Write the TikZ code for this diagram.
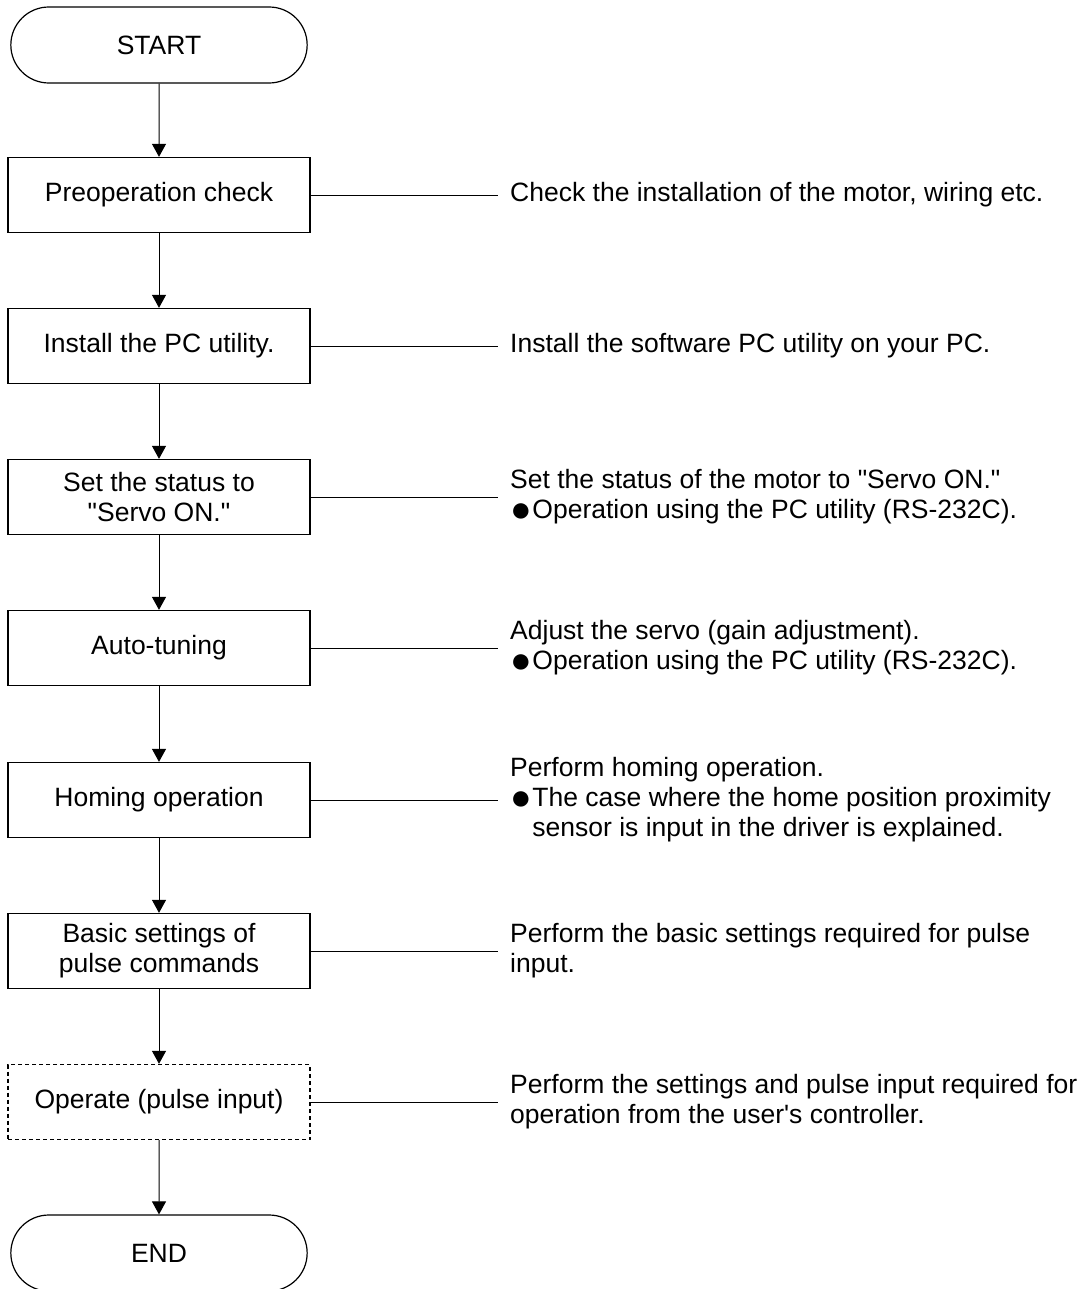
\documentclass[tikz,border=0pt]{standalone}
\usepackage{fontspec}
\newfontfamily\flowfont{Liberation Sans}
\usetikzlibrary{arrows.meta, shapes.misc, positioning}
\newcommand{\blt}{\makebox[0.84em][l]{\raisebox{-0.1em}{\scalebox{1.35}{●}}}}

\begin{document}
\begin{tikzpicture}[x=1pt, y=-1pt, >={Triangle[length=13pt,width=14pt]},
  every node/.style={font=\flowfont\fontsize{26.5}{30}\selectfont},
  term/.style={rounded rectangle, draw, line width=1.2pt, minimum width=303pt, minimum height=76pt},
  proc/.style={draw, line width=1.3pt, minimum width=302pt, minimum height=75pt, align=center},
  note/.style={anchor=west, align=left, inner xsep=12pt, inner ysep=0pt}]
  \useasboundingbox (0,0) rectangle (1083,1289);
  % main column
  \node[term] (start) at (159,45) {START};
  \node[proc] (chk) at (159,195) {Preoperation check};
  \node[proc] (pc) at (159,346) {Install the PC utility.};
  \node[proc] (srv) at (159,497) {Set the status to\\"Servo ON."};
  \node[proc] (tune) at (159,648) {Auto-tuning};
  \node[proc] (home) at (159,800) {Homing operation};
  \node[proc] (puls) at (159,951) {Basic settings of\\pulse commands};
  \node[proc, dash pattern=on 4pt off 3pt] (oper) at (159,1102) {Operate (pulse input)};
  \node[term] (end) at (159,1253) {END};
  \foreach \a/\b in {start/chk, chk/pc, pc/srv, srv/tune, tune/home, home/puls, puls/oper, oper/end}
    \draw[->, line width=1pt] (\a) -- (\b);
  % notes on the right
  \node[note] (n1) at (498,195) {Check the installation of the motor, wiring etc.};
  \node[note] (n2) at (498,346) {Install the software PC utility on your PC.};
  \node[note] (n3) at (498,497) {Set the status of the motor to "Servo ON."\\\blt Operation using the PC utility (RS-232C).};
  \node[note] (n4) at (498,648) {Adjust the servo (gain adjustment).\\\blt Operation using the PC utility (RS-232C).};
  \node[note] (n5) at (498,800) {Perform homing operation.\\\blt The case where the home position proximity\\\hspace*{0.84em}sensor is input in the driver is explained.};
  \node[note] (n6) at (498,951) {Perform the basic settings required for pulse\\input.};
  \node[note] (n7) at (498,1102) {Perform the settings and pulse input required for\\operation from the user's controller.};
  \foreach \a/\b in {chk/n1, pc/n2, srv/n3, tune/n4, home/n5, puls/n6, oper/n7}
    \draw[line width=0.8pt] (\a.east) -- (\a -| \b.west);
\end{tikzpicture}
\end{document}
